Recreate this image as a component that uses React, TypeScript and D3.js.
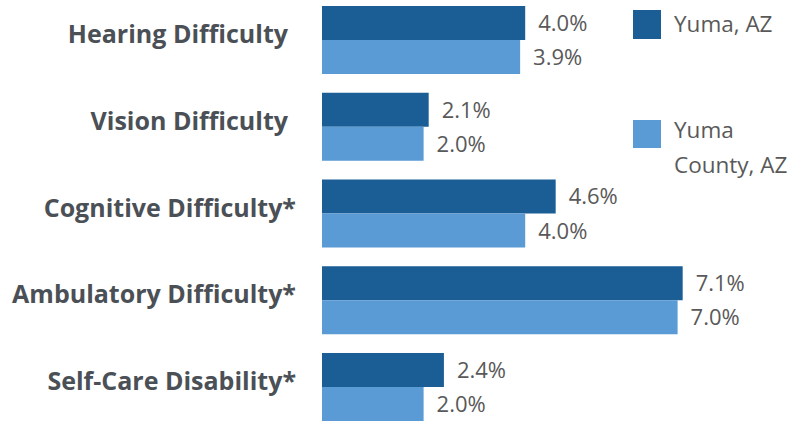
import React from "react";
import * as d3 from "d3";

const categories = [
  "Hearing Difficulty",
  "Vision Difficulty",
  "Cognitive Difficulty*",
  "Ambulatory Difficulty*",
  "Self-Care Disability*",
];
const yumaCity = [4.0, 2.1, 4.6, 7.1, 2.4];
const yumaCounty = [3.9, 2.0, 4.0, 7.0, 2.0];
const seriesNames = ["Yuma, AZ", "Yuma County, AZ"];
const seriesColors = ["#1b5e96", "#5b9bd5"];

const W = 797;
const H = 423;
const FONT = "'Open Sans', 'Noto Sans', sans-serif";

export default function App() {
  const y = d3.scaleBand<string>().domain(categories).range([6, 421]).paddingInner(0.216).paddingOuter(0);
  const inner = d3.scaleBand<number>().domain([0, 1]).range([0, y.bandwidth()]).padding(0);
  const x = d3.scaleLinear().domain([0, 8]).range([322, 322 + 8 * 50.8]);
  const series = [yumaCity, yumaCounty];
  const fmt = (v: number) => d3.format(".1f")(v) + "%";

  return (
    <svg width={W} height={H} style={{ position: "absolute", left: 0, top: 0, background: "#fff" }} fontFamily={FONT}>
      {categories.map((c, i) => {
        const gy = y(c)!;
        const cy = gy + y.bandwidth() / 2;
        const hasStar = c.endsWith("*");
        return (
          <g key={c}>
            <text x={hasStar ? 296 : 288} y={cy + 3} textAnchor="end" fontSize={25} fontWeight={700} fill="#4b5056">
              {c}
            </text>
            {series.map((s, k) => {
              const by = gy + inner(k)!;
              const bh = inner.bandwidth();
              return (
                <g key={k}>
                  <rect x={x(0)} y={by} width={x(s[i]) - x(0)} height={bh} fill={seriesColors[k]} />
                  <text x={x(s[i]) + 13} y={by + bh / 2 + 8} fontSize={22} fill="#595959">
                    {fmt(s[i])}
                  </text>
                </g>
              );
            })}
          </g>
        );
      })}
      <g>
        <rect x={633} y={10} width={28} height={29} fill={seriesColors[0]} />
        <text x={674} y={32} fontSize={22.5} fill="#595959">{seriesNames[0]}</text>
        <rect x={633} y={120} width={28} height={28} fill={seriesColors[1]} />
        <text x={674} y={138} fontSize={22.5} fill="#595959">
          <tspan x={674}>Yuma</tspan>
          <tspan x={674} dy={35}>County, AZ</tspan>
        </text>
      </g>
    </svg>
  );
}
